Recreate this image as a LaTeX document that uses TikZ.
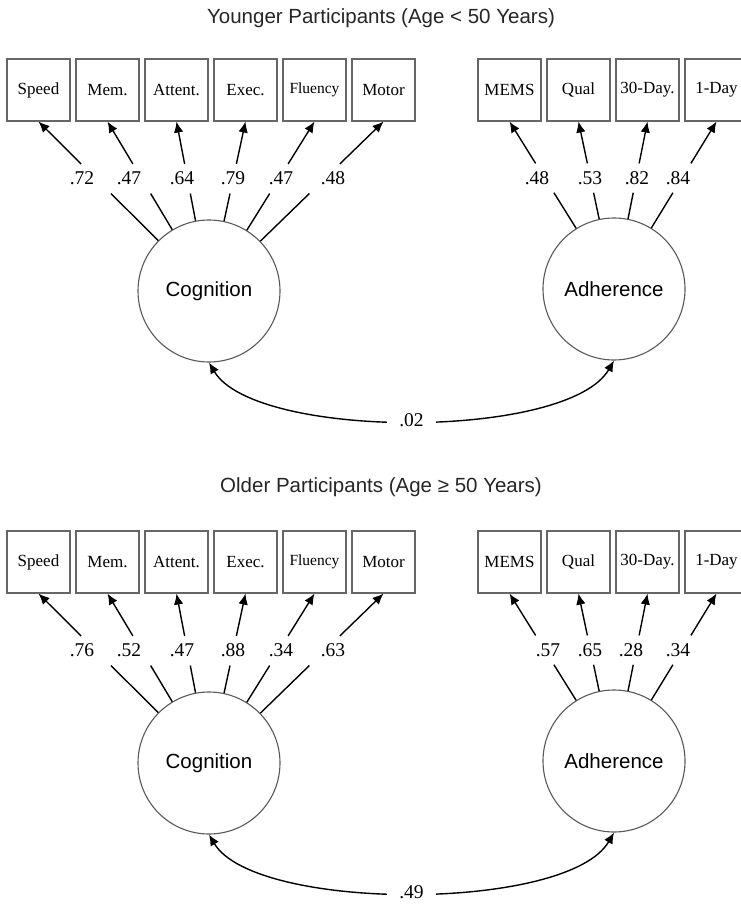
\documentclass[tikz,border=0pt]{standalone}
\usepackage{fontspec}
\setmainfont{Liberation Serif}
\newfontfamily\sansf{Liberation Sans}
\usetikzlibrary{arrows.meta,calc}
\tikzset{
 obs/.style={draw=black!60, line width=1.1pt, minimum width=63pt, minimum height=62pt, inner sep=0pt, font=\fontsize{17}{20}\selectfont},
 lat/.style={circle, draw=black!65, line width=1.1pt, minimum size=142pt, inner sep=0pt, font=\sansf\fontsize{20.5}{24}\selectfont},
 ttl/.style={font=\sansf\fontsize{20.5}{24}\selectfont, text=black!85, inner sep=0pt},
 lab/.style={font=\fontsize{19.5}{22}\selectfont, inner sep=0pt},
 conn/.style={line width=1.4pt},
 arw/.style={conn, -{Latex[length=11pt,width=9.5pt]}},
 cvw/.style={conn, {Latex[length=11pt,width=9.5pt]}-{Latex[length=11pt,width=9.5pt]}},
}
% #1 prefix, #2 y offset, #3 title, #4 title y, #5 cog loadings, #6 adh loadings, #7 corr
\newcommand\drawpanel[7]{%
  \node[ttl] (#1title) at (381,#4) {#3};
  \node[lat] (#1cog) at (209,291+#2) {Cognition};
  \node[lat] (#1adh) at (614,289+#2) {Adherence};
  \foreach \nm/\tx/\xx in {sp/Speed/38.5, me/Mem./107.5, at/Attent./176.5, ex/Exec./245.5, fl/{\fontsize{15.5}{18}\selectfont Fluency}/314.5, mo/Motor/383.5, ms/MEMS/509.5, qu/Qual/578.5, th/30-Day./647.5, on/1-Day/716.5}
    \node[obs] (#1\nm) at (\xx,90+#2) {\tx};
  \foreach \nm/\lx/\v in {#5} {
    \coordinate (#1\nm a) at ($(#1cog.center)!0.75!(#1\nm.south)$);
    \coordinate (#1\nm b) at ($(#1cog.center)!0.575!(#1\nm.south)$);
    \draw[arw] (#1\nm a) -- (#1\nm.south);
    \draw[conn] (#1cog) -- (#1\nm b);
    \node[lab] (#1\nm l) at (\lx,178+#2) {\v};
  }
  \foreach \nm/\lx/\v in {#6} {
    \coordinate (#1\nm a) at ($(#1adh.center)!0.75!(#1\nm.south)$);
    \coordinate (#1\nm b) at ($(#1adh.center)!0.575!(#1\nm.south)$);
    \draw[arw] (#1\nm a) -- (#1\nm.south);
    \draw[conn] (#1adh) -- (#1\nm b);
    \node[lab] (#1\nm l) at (\lx,178+#2) {\v};
  }
  \draw[cvw] (#1cog.south) .. controls (255,440+#2) and (568,440+#2) .. (#1adh.south)
    node[pos=0.5, fill=white, lab, inner xsep=12pt, inner ysep=3pt] (#1corr) {#7};
}
\begin{document}
\begin{tikzpicture}[x=1pt,y=-1pt]
\clip (0,0) rectangle (741,905);
\fill[white] (0,0) rectangle (741,905);
\drawpanel{u}{0}{Younger Participants (Age < 50 Years)}{18}
  {sp/82/.72, me/129/.47, at/182/.64, ex/233/.79, fl/281/.47, mo/333/.48}
  {ms/537/.48, qu/590/.53, th/637/.82, on/678/.84}{.02}
\drawpanel{o}{472}{Older Participants (Age ≥ 50 Years)}{487}
  {sp/82/.76, me/129/.52, at/182/.47, ex/233/.88, fl/281/.34, mo/333/.63}
  {ms/548/.57, qu/590/.65, th/631/.28, on/678/.34}{.49}
\end{tikzpicture}
\end{document}
